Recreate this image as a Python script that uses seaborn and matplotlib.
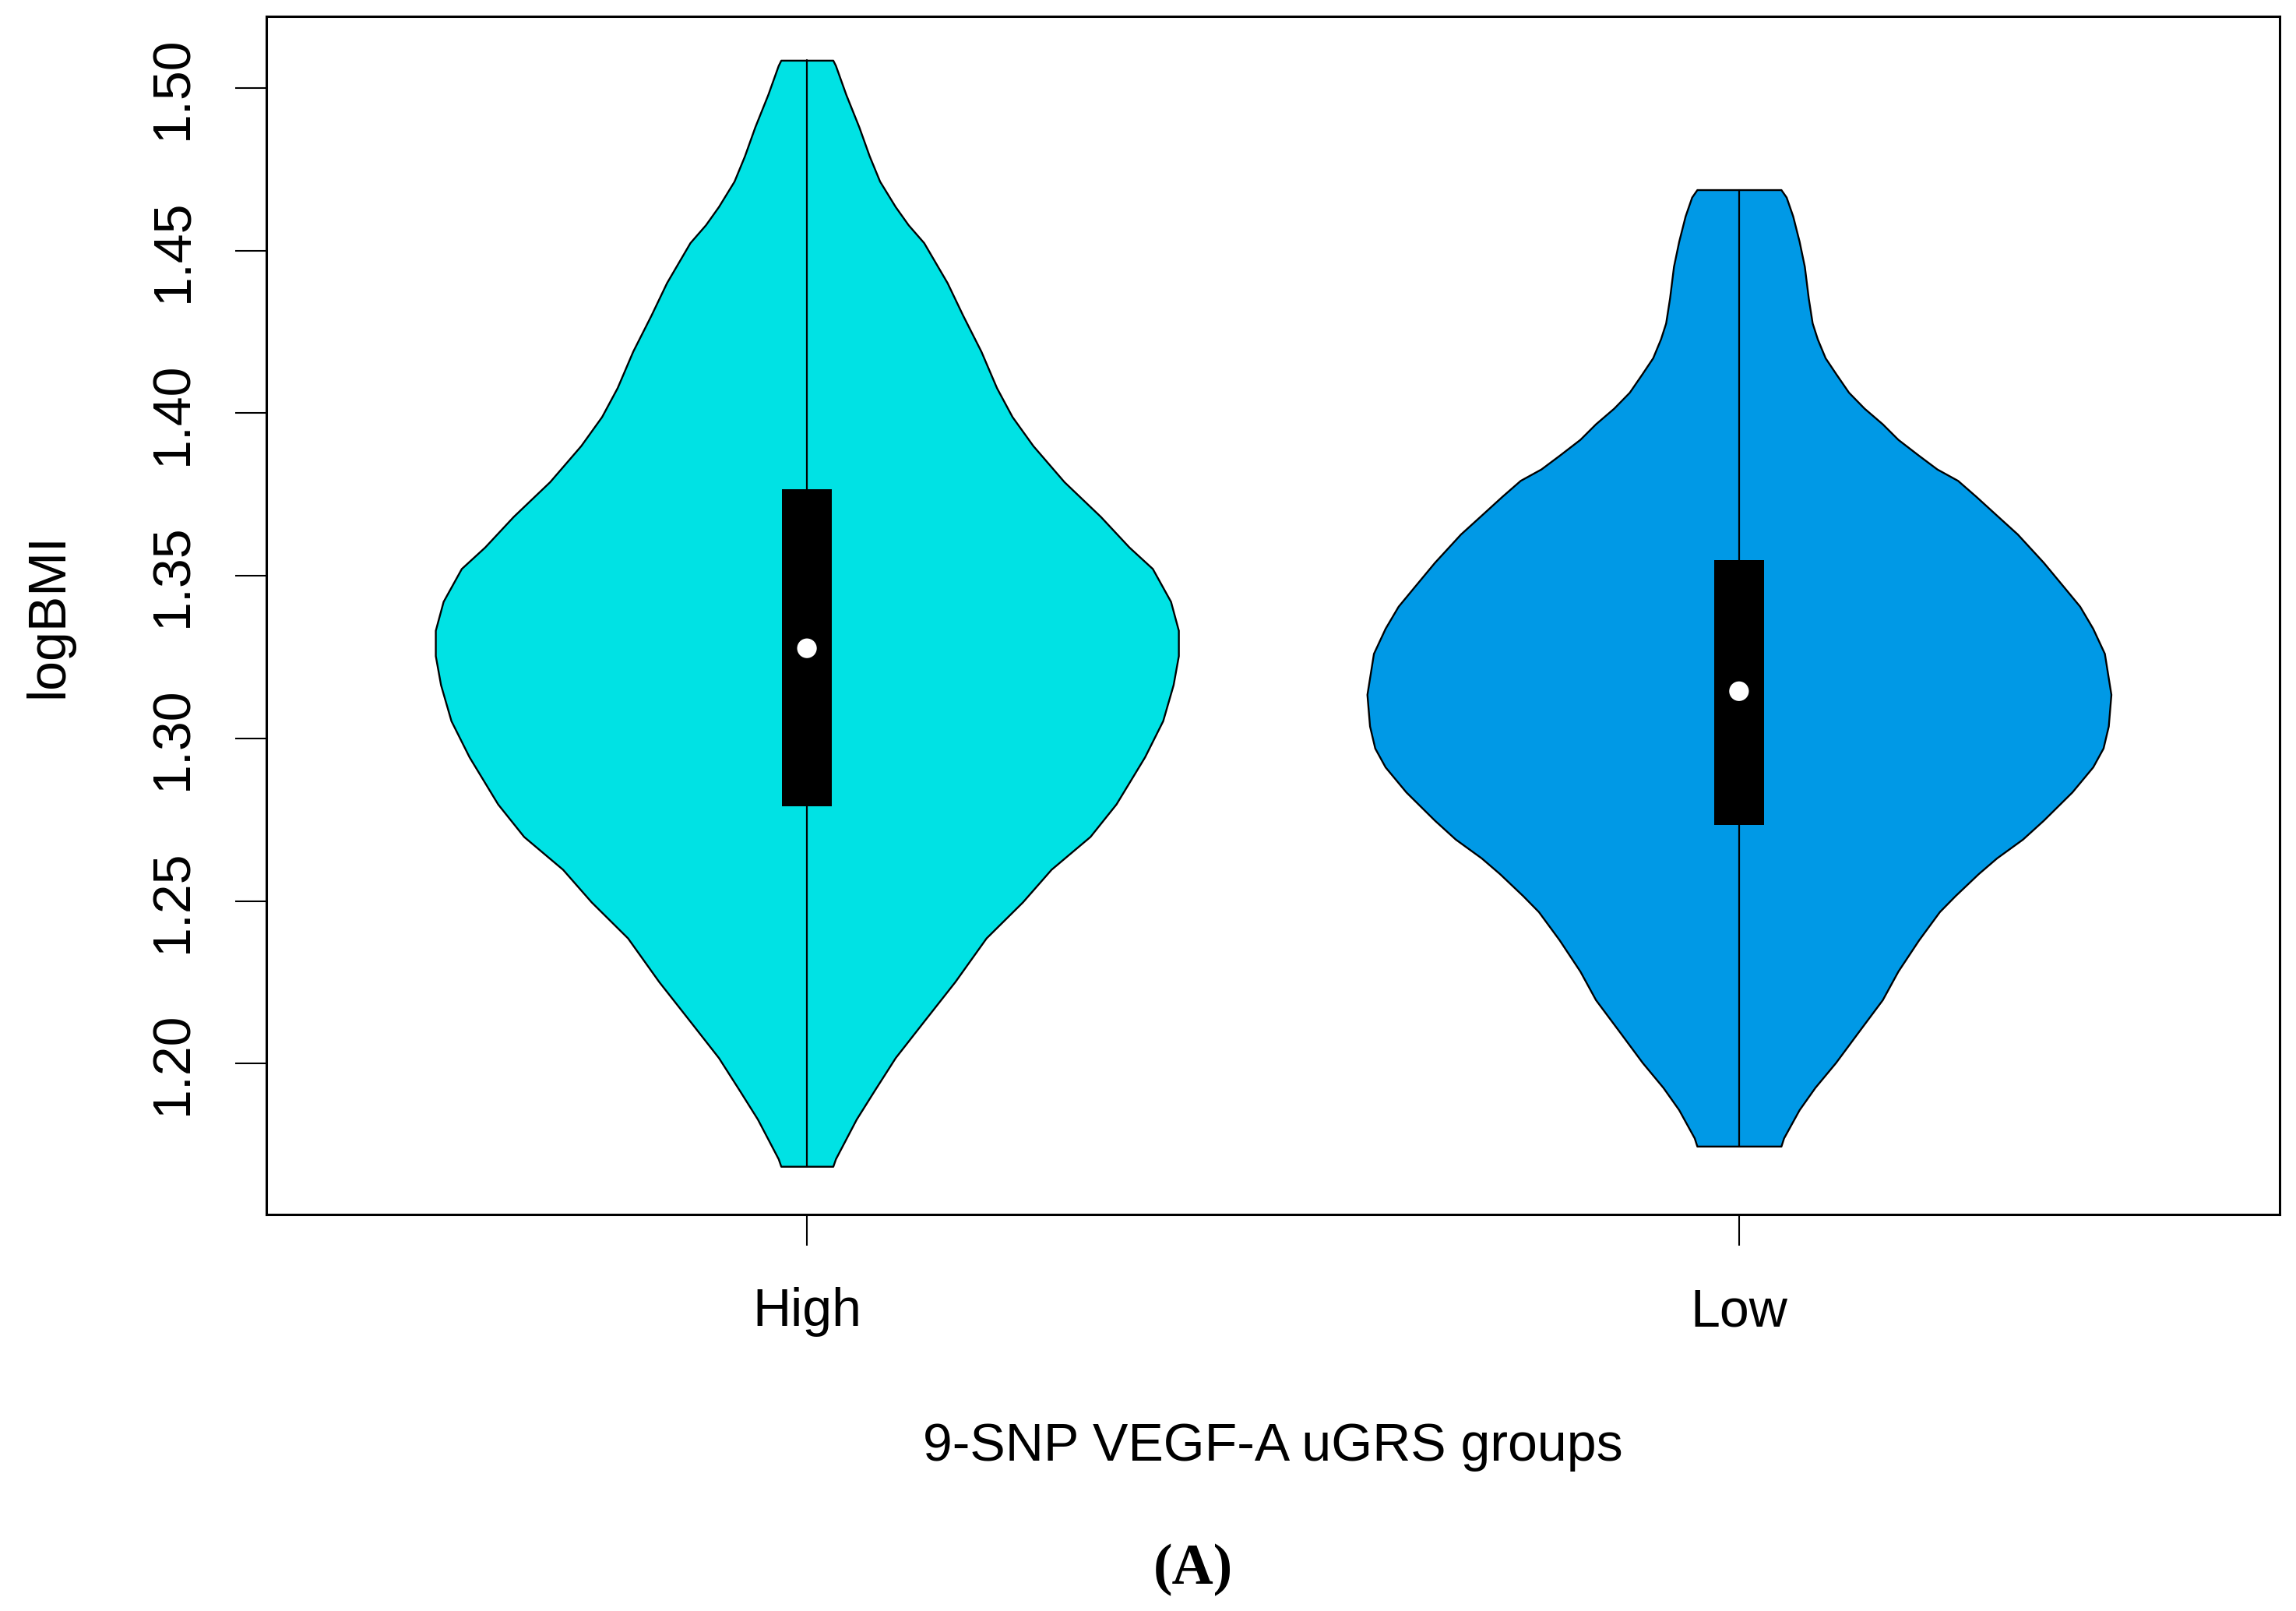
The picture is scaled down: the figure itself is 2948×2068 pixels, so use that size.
import numpy as np
import pandas as pd
import matplotlib
matplotlib.use("Agg")
import matplotlib.pyplot as plt
import seaborn as sns

# groups and colours
groups = ["High", "Low"]
colors = ["#00E2E4", "#0099E6"]

# violin outlines: logBMI value and half-width (x units)
high_y = [1.5085, 1.5069, 1.4980, 1.4880, 1.4791, 1.4713, 1.4635, 1.4579, 1.4524,
          1.4401, 1.4301, 1.4190, 1.4078, 1.3989, 1.3900, 1.3789, 1.3682, 1.3588,
          1.3522, 1.3421, 1.3332, 1.3254, 1.3165, 1.3054, 1.2943, 1.2798, 1.2698,
          1.2597, 1.2497, 1.2386, 1.2252, 1.2130, 1.2018, 1.1918, 1.1829, 1.1707, 1.1684]
high_w = [0.0279, 0.0307, 0.0418, 0.0558, 0.0669, 0.0781, 0.0948, 0.1087, 0.1254,
          0.1505, 0.1672, 0.1868, 0.2035, 0.2202, 0.2425, 0.2759, 0.3150, 0.3456,
          0.3707, 0.3902, 0.3986, 0.3986, 0.3930, 0.3818, 0.3624, 0.3317, 0.3038,
          0.2620, 0.2314, 0.1923, 0.1589, 0.1254, 0.0948, 0.0725, 0.0530, 0.0307, 0.0279]

low_y = [1.4687, 1.4664, 1.4606, 1.4528, 1.4451, 1.4354, 1.4277, 1.4228, 1.4170,
         1.4122, 1.4064, 1.4015, 1.3967, 1.3919, 1.3870, 1.3828, 1.3793, 1.3744,
         1.3686, 1.3628, 1.3541, 1.3464, 1.3406, 1.3338, 1.3261, 1.3135, 1.3038,
         1.2970, 1.2912, 1.2835, 1.2748, 1.2690, 1.2632, 1.2584, 1.2516, 1.2467,
         1.2380, 1.2284, 1.2196, 1.2100, 1.2003, 1.1926, 1.1858, 1.1771, 1.1746]
low_w = [0.0451, 0.0507, 0.0577, 0.0646, 0.0702, 0.0744, 0.0786, 0.0841, 0.0925,
         0.1037, 0.1176, 0.1343, 0.1538, 0.1706, 0.1928, 0.2124, 0.2346, 0.2542,
         0.2764, 0.2987, 0.3266, 0.3489, 0.3656, 0.3796, 0.3921, 0.3991, 0.3963,
         0.3907, 0.3796, 0.3573, 0.3266, 0.3043, 0.2764, 0.2569, 0.2319, 0.2151,
         0.1928, 0.1706, 0.1538, 0.1288, 0.1037, 0.0814, 0.0646, 0.0479, 0.0451]

# box (quartiles) and medians
q1 = [1.2791, 1.2734]
q3 = [1.3767, 1.3547]
medians = [1.3277, 1.3145]

yticks = [1.20, 1.25, 1.30, 1.35, 1.40, 1.45, 1.50]

sns.set_style("white")
plt.rcParams["font.family"] = ["Liberation Sans", "DejaVu Sans"]
plt.rcParams["text.color"] = "black"
plt.rcParams["axes.labelcolor"] = "black"

fig = plt.figure(figsize=(29.48, 20.68), dpi=100)
ax = fig.add_axes([0.1160, 0.24613, 0.87687, 0.74371])

positions = [1, 2]
outlines = [(high_y, high_w), (low_y, low_w)]
for pos, (ys, ws), col in zip(positions, outlines, colors):
    ys = np.array(ys)
    ws = np.array(ws)
    ax.fill_betweenx(ys, pos - ws, pos + ws, facecolor=col, edgecolor="black",
                     linewidth=1.7, zorder=2)
    ax.plot([pos, pos], [ys.min(), ys.max()], color="black", lw=1.6, zorder=3)

# quartile boxes
ax.bar(positions, np.array(q3) - np.array(q1), bottom=q1, width=0.053,
       color="black", edgecolor="black", linewidth=0, zorder=4)

# medians
med_df = pd.DataFrame({"pos": positions, "median": medians})
sns.scatterplot(data=med_df, x="pos", y="median", color="white", s=330,
                edgecolor="none", zorder=5, ax=ax, legend=False)

ax.set_xlim(0.42, 2.58)
ax.set_ylim(1.1536, 1.5220)
ax.set_xticks(positions)
ax.set_xticklabels(groups)
ax.set_yticks(yticks)
ax.set_yticklabels([f"{t:.2f}" for t in yticks])

for sp in ax.spines.values():
    sp.set_visible(True)
    sp.set_color("black")
    sp.set_linewidth(2.2)

ax.tick_params(axis="both", which="major", direction="out", length=29, width=1.5,
               colors="black", labelcolor="black", labelsize=49,
               bottom=True, left=True)
ax.tick_params(axis="x", pad=38)
ax.tick_params(axis="y", pad=57, labelrotation=90)
for lbl in ax.get_yticklabels():
    lbl.set_ha("center")
    lbl.set_va("center")

ax.set_xlabel("9-SNP VEGF-A uGRS groups", fontsize=49, va="center", color="black")
ax.xaxis.set_label_coords(0.5, -0.1938)
ax.set_ylabel("logBMI", fontsize=49, va="center", ha="center", color="black")
ax.yaxis.set_label_coords(-0.1083, 0.5)

fig.text(1532 / 2948, 1 - 2015 / 2068, "(A)", fontsize=53, fontweight="bold",
         family=["Liberation Serif", "DejaVu Serif"], ha="center", va="center",
         color="black")

fig.savefig("out.png", dpi=100, facecolor="white")
